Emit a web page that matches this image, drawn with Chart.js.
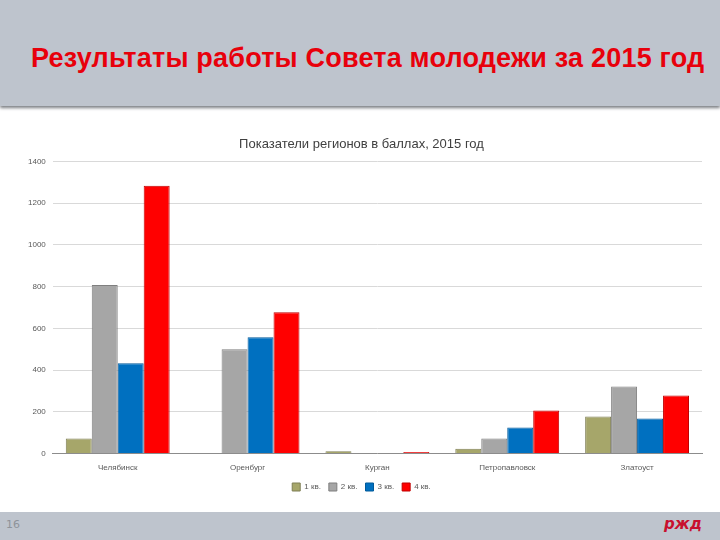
<!DOCTYPE html>
<html><head><meta charset="utf-8">
<script src="https://cdn.jsdelivr.net/npm/chart.js@4"></script>
<style>
html,body{margin:0;padding:0;width:720px;height:540px;overflow:hidden;background:#fff;font-family:"Liberation Sans",Arial,sans-serif}
#hdr{position:absolute;left:0;top:0;width:720px;height:106px;background:#bec4cd;box-shadow:0 2px 3px #7a7d82}
#ttl{position:absolute;left:31px;top:43px;font-weight:bold;font-size:27px;color:#e8000b;white-space:nowrap;letter-spacing:0.2px}
#ftr{position:absolute;left:0;top:512px;width:720px;height:28px;background:#bec4cd}
#pg{position:absolute;left:6px;top:518px;font-size:11px;color:#8e939a;font-family:"DejaVu Sans",sans-serif}
#logo{position:absolute;left:664px;top:515px;font-size:15px;font-weight:bold;font-style:italic;color:#c8102e;font-family:"DejaVu Sans",sans-serif}
#wrap{position:absolute;left:0;top:128px;width:720px;height:373px}
</style></head>
<body>
<div id="hdr"><div id="ttl">Результаты работы Совета молодежи за 2015 год</div></div>
<div id="wrap"><canvas id="c"></canvas></div>
<div id="ftr"></div>
<div id="pg">16</div>
<div id="logo">ржд</div>
<script>
const categories = ["Челябинск","Оренбург","Курган","Петропавловск","Златоуст"];
const seriesNames = ["1 кв.","2 кв.","3 кв.","4 кв."];
const q1 = [72, 0, 10, 22, 177];
const q2 = [808, 500, 0, 72, 321];
const q3 = [432, 557, 0, 124, 167];
const q4 = [1284, 677, 7, 206, 278];
const yTicks = [0,200,400,600,800,1000,1200,1400];
const colors = ["#a6a66a","#a6a6a6","#0070c0","#ff0000"];
const borders = ["#7f7f55","#7f7f7f","#005a9a","#c00000"];
const values = [q1,q2,q3,q4];

new Chart(document.getElementById('c'), {
  type: 'bar',
  data: {
    labels: categories,
    datasets: seriesNames.map((n,i)=>({label:n,data:values[i],backgroundColor:colors[i],borderColor:borders[i],borderWidth:1,categoryPercentage:0.8,barPercentage:1.0}))
  },
  options: {
    responsive:true, maintainAspectRatio:false, animation:false,
    layout:{padding:{left:21,right:18,top:0,bottom:0}},
    plugins:{
      title:{display:true,text:'Показатели регионов в баллах, 2015 год',color:'#404040',font:{family:'"Liberation Sans", sans-serif',size:13,weight:'normal'},padding:{top:9,bottom:9}},
      legend:{position:'bottom',labels:{boxWidth:8,boxHeight:8,color:'#595959',font:{size:8},padding:8}},
      tooltip:{enabled:false}
    },
    scales:{
      x:{grid:{display:false},border:{color:'#8c8c8c'},ticks:{color:'#595959',font:{size:8},padding:2}},
      y:{min:0,max:1400,afterBuildTicks:(s)=>{s.ticks=yTicks.map(v=>({value:v}));},
         grid:{color:'#d9d9d9',drawTicks:false},border:{display:false},
         ticks:{color:'#595959',font:{size:8},padding:7,callback:(v)=>String(v)}}
    }
  }
});
</script>
</body></html>
